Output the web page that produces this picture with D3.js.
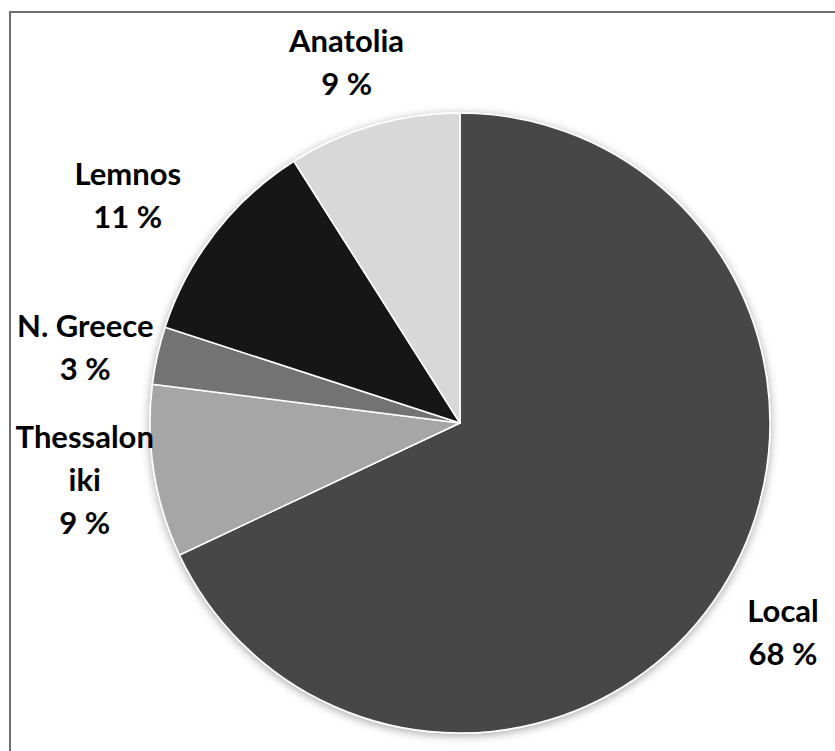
<!DOCTYPE html>
<html>
<head>
<meta charset="utf-8">
<script src="https://cdn.jsdelivr.net/npm/d3@7"></script>
<style>
   html, body { margin: 0; padding: 0; background: #fff; }
   svg { display: block; }
   .label { font-family: Lato, "Open Sans", sans-serif; font-weight: 700; fill: #000; }
</style>
</head>
<body>
<div id="chart"></div>
<script>
"use strict";

// slices, clockwise from 12 o'clock
const categories = ["Local", "Thessaloniki", "N. Greece", "Lemnos", "Anatolia"];
const shares = [68, 9, 3, 11, 9];
const labelLines = [["Local"], ["Thessalon", "iki"], ["N. Greece"], ["Lemnos"], ["Anatolia"]];
const colours = ["#464646", "#a6a6a6", "#737373", "#141414", "#d8d8d8"];
// small hand nudges to match where the original placed each label
const labelNudge = [[-2, 3], [5, -3], [1, 8], [-28, 8], [-6, 9]];

(function () {
   const width = 835;
   const height = 751;
   const cx = 460;
   const cy = 423;
   const radius = 310;
   const labelRadius = 385;
   const lineHeight = 43;
   const fontSize = 31;

   const svg = d3.select("#chart").append("svg")
      .attr("width", width)
      .attr("height", height);

   // outer frame, cut off at right and bottom like the original
   svg.append("rect")
      .attr("x", 10)
      .attr("y", 12)
      .attr("width", width + 20)
      .attr("height", height + 20)
      .attr("fill", "none")
      .attr("stroke", "#6f6f6f")
      .attr("stroke-width", 2);

   const defs = svg.append("defs");
   const shadow = defs.append("filter")
      .attr("id", "shadow")
      .attr("x", "-10%").attr("y", "-10%")
      .attr("width", "120%").attr("height", "120%");
   shadow.append("feDropShadow")
      .attr("dx", 0)
      .attr("dy", 2)
      .attr("stdDeviation", 5)
      .attr("flood-color", "#000")
      .attr("flood-opacity", 0.35);

   const data = categories.map((c, i) => ({
      name: c,
      value: shares[i],
      lines: labelLines[i],
      colour: colours[i],
      nudge: labelNudge[i]
   }));

   const pie = d3.pie()
      .sort(null)
      .value(d => d.value);

   const arcs = pie(data);

   const arc = d3.arc()
      .innerRadius(0)
      .outerRadius(radius);

   const labelArc = d3.arc()
      .innerRadius(labelRadius)
      .outerRadius(labelRadius);

   const g = svg.append("g")
      .attr("transform", `translate(${cx},${cy})`);

   g.append("g")
      .attr("filter", "url(#shadow)")
      .selectAll("path")
      .data(arcs)
      .enter()
      .append("path")
      .attr("d", arc)
      .attr("fill", d => d.data.colour)
      .attr("stroke", "#fff")
      .attr("stroke-width", 1.5)
      .attr("stroke-linejoin", "round");

   const labels = g.selectAll("g.lab")
      .data(arcs)
      .enter()
      .append("g")
      .attr("class", "lab")
      .attr("transform", d => {
         const [x, y] = labelArc.centroid(d);
         return `translate(${x + d.data.nudge[0]},${y + d.data.nudge[1]})`;
      });

   labels.each(function (d) {
      const sel = d3.select(this);
      const lines = d.data.lines.concat([`${d.data.value} %`]);
      const first = -((lines.length - 1) * lineHeight) / 2 + fontSize * 0.36;
      lines.forEach((line, i) => {
         sel.append("text")
            .attr("class", "label")
            .attr("text-anchor", "middle")
            .attr("font-size", fontSize)
            .attr("y", first + i * lineHeight)
            .text(line);
      });
   });
})();
</script>
</body>
</html>
